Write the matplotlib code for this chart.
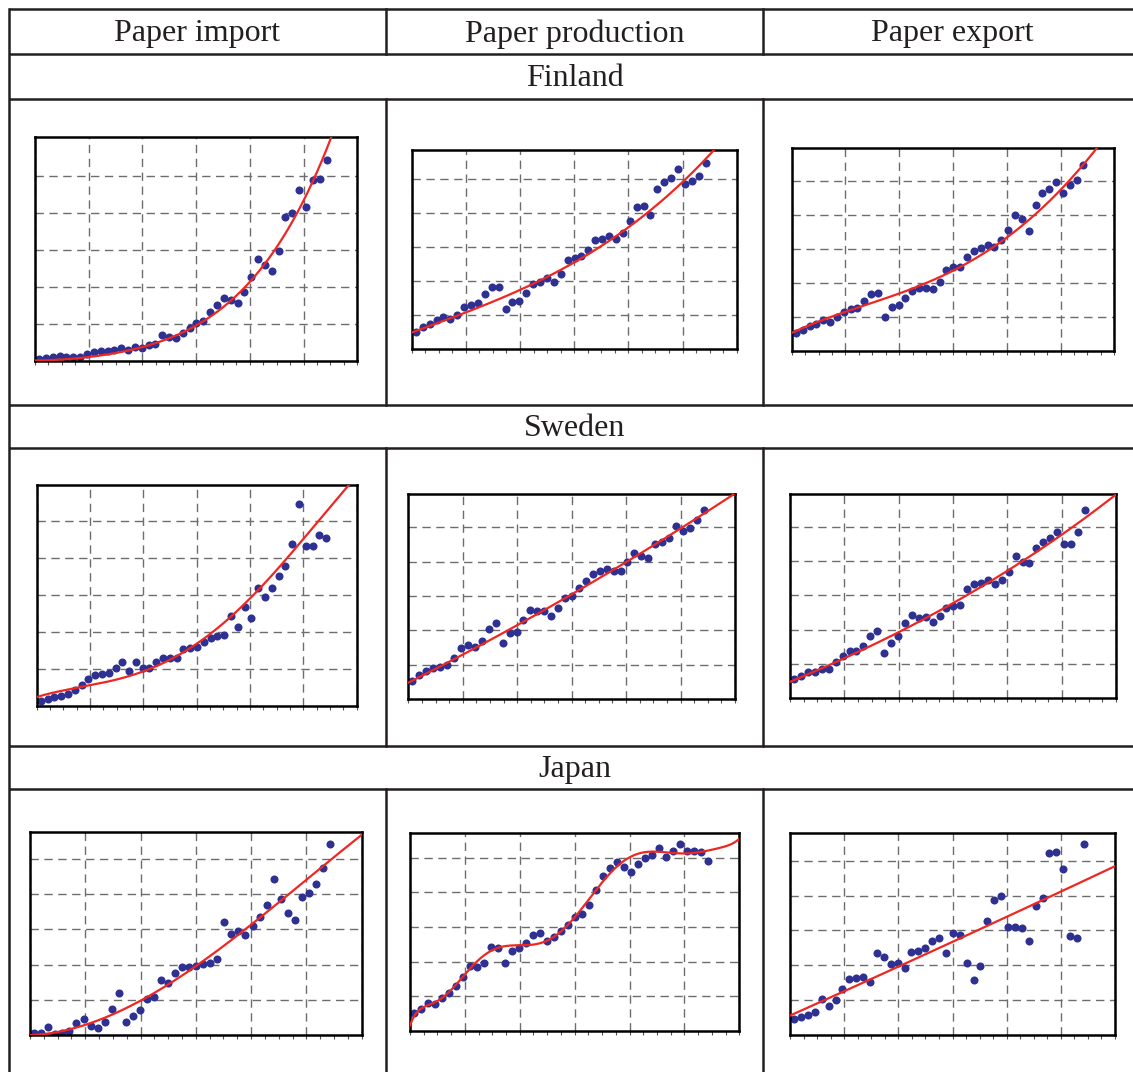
import numpy as np
import matplotlib
matplotlib.use('Agg')
import matplotlib.pyplot as plt
from numpy.polynomial import Polynomial

# ---- data (in grid units) ----
years = list(range(1961, 2004))

columns = ['Paper import', 'Paper production', 'Paper export']
countries = ['Finland', 'Sweden', 'Japan']

finland_import = [0.04, 0.07, 0.11, 0.13, 0.11, 0.11, 0.09, 0.18, 0.24, 0.27,
                  0.27, 0.29, 0.33, 0.29, 0.38, 0.33, 0.42, 0.45, 0.69, 0.65,
                  0.60, 0.74, 0.87, 1.03, 1.08, 1.32, 1.50, 1.70, 1.64, 1.57,
                  1.86, 2.25, 2.74, 2.59, 2.41, 2.97, 3.89, 3.98, 4.61, 4.16,
                  4.88, 4.90, 5.42]
finland_production = [0.52, 0.65, 0.75, 0.86, 0.96, 0.89, 1.01, 1.23, 1.30, 1.35,
                      1.62, 1.82, 1.83, 1.18, 1.40, 1.42, 1.67, 1.92, 1.99, 2.09,
                      1.99, 2.22, 2.63, 2.68, 2.73, 2.92, 3.20, 3.25, 3.34, 3.25,
                      3.41, 3.78, 4.18, 4.20, 3.95, 4.71, 4.93, 5.03, 5.29, 4.86,
                      4.96, 5.10, 5.49]
finland_export = [0.54, 0.62, 0.74, 0.79, 0.91, 0.86, 1.01, 1.16, 1.23, 1.27,
                  1.47, 1.67, 1.70, 1.01, 1.28, 1.35, 1.55, 1.77, 1.84, 1.84,
                  1.82, 2.04, 2.38, 2.48, 2.46, 2.75, 2.95, 3.02, 3.12, 3.05,
                  3.25, 3.56, 4.00, 3.87, 3.54, 4.29, 4.66, 4.75, 4.98, 4.64,
                  4.88, 5.03, 5.47]
sweden_import = [0.14, 0.18, 0.25, 0.28, 0.32, 0.43, 0.57, 0.73, 0.84, 0.86,
                 0.88, 1.04, 1.18, 0.95, 1.18, 1.02, 1.02, 1.18, 1.29, 1.29,
                 1.31, 1.54, 1.58, 1.60, 1.74, 1.83, 1.90, 1.92, 2.44, 2.14,
                 2.68, 2.37, 3.18, 2.95, 3.18, 3.52, 3.78, 4.37, 5.45, 4.31,
                 4.31, 4.62, 4.55]
sweden_production = [0.52, 0.70, 0.82, 0.91, 0.94, 0.99, 1.18, 1.48, 1.57, 1.52,
                     1.70, 2.04, 2.22, 1.64, 1.91, 1.96, 2.30, 2.59, 2.56, 2.56,
                     2.42, 2.64, 2.95, 3.01, 3.22, 3.44, 3.63, 3.73, 3.78, 3.73,
                     3.74, 3.98, 4.24, 4.17, 4.10, 4.50, 4.56, 4.68, 5.05, 4.90,
                     4.99, 5.21, 5.50]
sweden_export = [0.55, 0.66, 0.78, 0.76, 0.84, 0.84, 1.07, 1.24, 1.38, 1.39,
                 1.52, 1.80, 1.97, 1.33, 1.62, 1.82, 2.18, 2.43, 2.33, 2.38,
                 2.23, 2.41, 2.62, 2.70, 2.72, 3.17, 3.33, 3.37, 3.45, 3.33,
                 3.45, 3.67, 4.13, 3.96, 3.93, 4.37, 4.54, 4.68, 4.83, 4.49,
                 4.50, 4.85, 5.49]
japan_import = [0.05, 0.05, 0.24, 0.03, 0.05, 0.12, 0.33, 0.44, 0.26, 0.19,
                0.38, 0.73, 1.20, 0.38, 0.54, 0.71, 1.01, 1.07, 1.56, 1.47,
                1.77, 1.92, 1.92, 1.96, 2.02, 2.03, 2.15, 3.22, 2.87, 2.96,
                2.84, 3.09, 3.36, 3.69, 4.42, 3.85, 3.45, 3.26, 3.91, 4.02,
                4.29, 4.73, 5.42]
japan_production = [0.51, 0.63, 0.82, 0.78, 0.94, 1.11, 1.31, 1.57, 1.88, 1.84,
                    1.95, 2.43, 2.38, 1.97, 2.32, 2.38, 2.53, 2.77, 2.84, 2.61,
                    2.70, 2.88, 3.06, 3.28, 3.38, 3.63, 4.07, 4.47, 4.69, 4.88,
                    4.74, 4.60, 4.82, 4.98, 5.08, 5.27, 5.03, 5.20, 5.39, 5.20,
                    5.19, 5.15, 4.91]
japan_export = [0.46, 0.53, 0.57, 0.67, 1.02, 0.84, 1.00, 1.31, 1.61, 1.65,
                1.67, 1.53, 2.34, 2.23, 2.03, 2.08, 1.93, 2.39, 2.41, 2.49,
                2.71, 2.79, 2.36, 2.92, 2.87, 2.06, 1.58, 1.99, 3.27, 3.88,
                3.99, 3.11, 3.11, 3.08, 2.71, 3.70, 3.92, 5.23, 5.26, 4.76,
                2.84, 2.78, 5.48]

# trend curves (year, value)
finland_import_trend_x = [1960.4, 1967.9, 1975.8, 1983.6, 1991.5, 1999.4, 2003.7]
finland_import_trend_y = [0.0, 0.11, 0.33, 0.92, 2.09, 4.21, 6.05]
finland_production_trend_x = [1960.4, 1968.2, 1976.0, 1983.8, 1991.6, 1999.5, 2004.3]
finland_production_trend_y = [0.49, 1.08, 1.75, 2.53, 3.53, 4.93, 5.86]
finland_export_trend_x = [1960.4, 1968.1, 1976.0, 1983.8, 1991.7, 1999.6, 2005.0]
finland_export_trend_y = [0.54, 1.11, 1.72, 2.36, 3.26, 4.78, 5.96]
sweden_import_trend_x = [1960.4, 1968.1, 1975.9, 1983.8, 1991.7, 1999.6, 2006.2]
sweden_import_trend_y = [0.25, 0.52, 0.97, 1.65, 2.86, 4.53, 5.93]
sweden_production_trend_x = [1960.4, 1968.1, 1975.9, 1983.9, 1991.6, 1999.4, 2007.3]
sweden_production_trend_y = [0.44, 1.36, 2.10, 2.98, 3.98, 4.97, 5.94]
sweden_export_trend_x = [1960.4, 1967.9, 1975.7, 1983.6, 1991.5, 1999.3, 2007.2]
sweden_export_trend_y = [0.47, 1.15, 1.89, 2.72, 3.64, 4.76, 5.87]
japan_import_trend_x = [1960.4, 1968.2, 1976.1, 1983.9, 1991.8, 1999.7, 2007.7]
japan_import_trend_y = [0.0, 0.28, 0.95, 1.99, 3.12, 4.40, 5.72]
japan_production_trend_x = [1960.4, 1961.8, 1964.2, 1966.1, 1968.1, 1970.0, 1971.2,
                            1972.9, 1975.7, 1978.6, 1980.5, 1982.9, 1984.8, 1986.7,
                            1988.2, 1990.1, 1992.0, 1993.9, 1996.3, 1998.7, 2001.1,
                            2002.6, 2004.4, 2007.7]
japan_production_trend_y = [0.17, 0.59, 0.89, 1.13, 1.59, 2.00, 2.24,
                            2.38, 2.45, 2.55, 2.67, 3.06, 3.39, 3.97,
                            4.45, 4.79, 5.01, 5.13, 5.15, 5.15, 5.15,
                            5.17, 5.27, 5.59]
japan_export_trend_x = [1960.4, 1967.8, 1975.7, 1983.6, 1991.5, 1999.2, 2006.8]
japan_export_trend_y = [0.53, 1.24, 1.96, 2.63, 3.35, 4.04, 4.81]

series = [[finland_import, finland_production, finland_export],
          [sweden_import, sweden_production, sweden_export],
          [japan_import, japan_production, japan_export]]
trends = [[(finland_import_trend_x, finland_import_trend_y),
           (finland_production_trend_x, finland_production_trend_y),
           (finland_export_trend_x, finland_export_trend_y)],
          [(sweden_import_trend_x, sweden_import_trend_y),
           (sweden_production_trend_x, sweden_production_trend_y),
           (sweden_export_trend_x, sweden_export_trend_y)],
          [(japan_import_trend_x, japan_import_trend_y),
           (japan_production_trend_x, japan_production_trend_y),
           (japan_export_trend_x, japan_export_trend_y)]]
fit_degree = [[4, 3, 4], [4, 2, 3], [3, 9, 2]]

# ---- layout (pixels of the 1133x1072 picture) ----
W, H = 1133, 1072
boxes = [[(35, 136.7, 357.3, 360.7), (411.7, 150, 736.7, 349.3), (791.7, 148.3, 1114.3, 351)],
         [(36.7, 485, 356.7, 706), (408.3, 494.3, 735, 699), (790, 494.3, 1116, 698.3)],
         [(30, 831.7, 361.7, 1035), (410, 832.7, 739.3, 1031), (790, 833.3, 1115, 1035)]]
ytops = [[6.05, 5.86, 5.96], [5.97, 5.96, 5.94], [5.77, 5.72, 5.79]]
xlim = (1960.4, 2007.5)

ink = '#231f20'
plt.rcParams['font.family'] = ['Liberation Serif', 'DejaVu Serif']

fig = plt.figure(figsize=(W / 100, H / 100), dpi=100)

# table background
bg = fig.add_axes([0, 0, 1, 1])
bg.set_xlim(0, W)
bg.set_ylim(H, 0)
bg.axis('off')
lw_tab = 1.8
x_left, x_c1, x_c2 = 8.7, 386, 763.3
for yy in [9.3, 54, 98.7, 405, 448.3, 745.7, 789.3]:
    bg.plot([x_left, W], [yy, yy], color=ink, lw=lw_tab, solid_capstyle='butt')
bg.plot([x_left, x_left], [9.3, H], color=ink, lw=lw_tab)
for xx in [x_c1, x_c2]:
    for y0, y1 in [(9.3, 54), (98.7, 405), (448.3, 745.7), (789.3, H)]:
        bg.plot([xx, xx], [y0, y1], color=ink, lw=lw_tab)

col_centers = [197, 574.7, 952]
for cx, name in zip(col_centers, columns):
    bg.text(cx, 34, name, ha='center', va='center', fontsize=23, color=ink)
for cy, name in zip([78, 428, 769], countries):
    bg.text(575, cy, name, ha='center', va='center', fontsize=23, color=ink)

# small charts
x = np.array(years, dtype=float)
xs = np.linspace(xlim[0], xlim[1], 400)
for r in range(3):
    for c in range(3):
        l, t, rr, b = boxes[r][c]
        ax = fig.add_axes([l / W, 1 - b / H, (rr - l) / W, (b - t) / H])
        ax.plot(x, series[r][c], 'o', color='#2e3192', markersize=5.8,
                markeredgewidth=0, zorder=2)
        tx, ty = trends[r][c]
        fit = Polynomial.fit(tx, ty, fit_degree[r][c])
        ax.plot(xs, fit(xs), color='#ee2722', lw=1.6, zorder=3)
        ax.set_xlim(*xlim)
        ax.set_ylim(0, ytops[r][c])
        ax.set_xticks(np.linspace(xlim[0], xlim[1], 7))
        ax.set_xticks(np.linspace(xlim[0], xlim[1], 25), minor=True)
        ax.set_yticks([1, 2, 3, 4, 5])
        ax.grid(True, color='#6d6d6d', lw=1.0, linestyle=(0, (6, 4)))
        ax.tick_params(axis='x', which='both', direction='out', length=3,
                       width=0.8, color='#555555', labelbottom=False)
        ax.tick_params(axis='y', which='both', length=0, labelleft=False)
        for sp in ax.spines.values():
            sp.set_linewidth(1.8)
            sp.set_color('black')

fig.savefig('out.png', dpi=100)
